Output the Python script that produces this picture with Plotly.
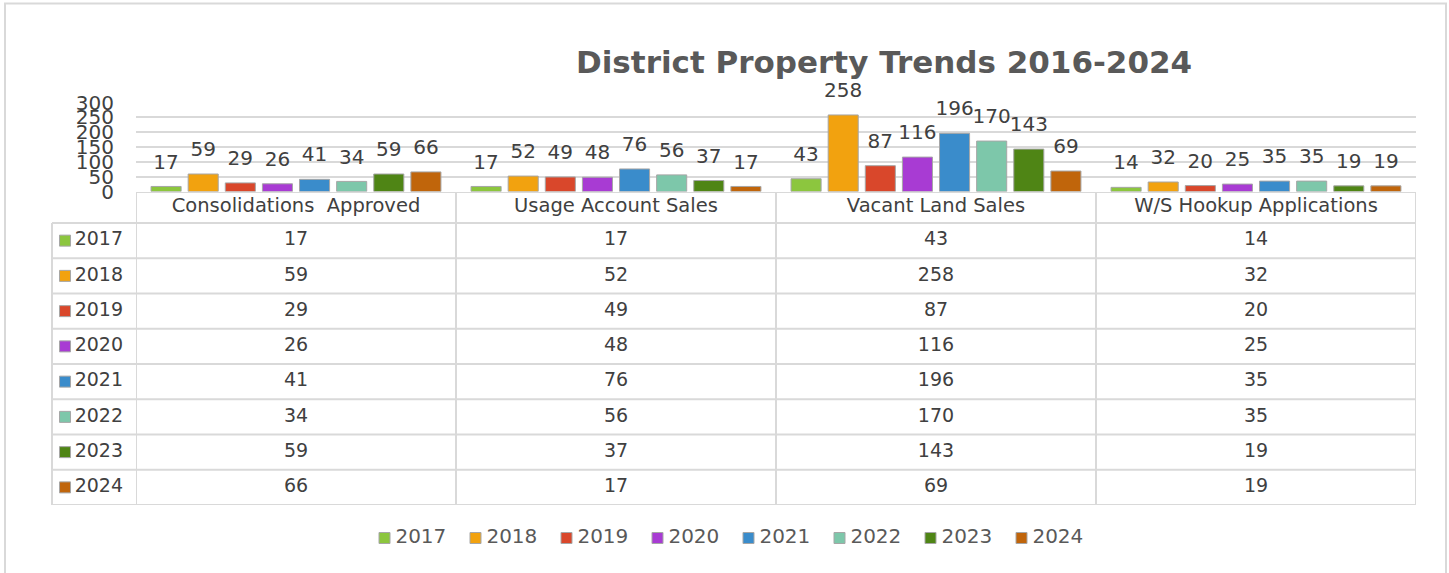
import plotly.graph_objects as go

categories = ["Consolidations  Approved", "Usage Account Sales", "Vacant Land Sales", "W/S Hookup Applications"]
years = ["2017", "2018", "2019", "2020", "2021", "2022", "2023", "2024"]
values = {
    "2017": [17, 17, 43, 14],
    "2018": [59, 52, 258, 32],
    "2019": [29, 49, 87, 20],
    "2020": [26, 48, 116, 25],
    "2021": [41, 76, 196, 35],
    "2022": [34, 56, 170, 35],
    "2023": [59, 37, 143, 19],
    "2024": [66, 17, 69, 19],
}
colors = ["#8CC63E", "#F2A20F", "#D9472B", "#A83BD3", "#3A8CCB", "#7DC7AA", "#4F8515", "#C0650B"]
y_ticks = [0, 50, 100, 150, 200, 250, 300]
title = "District Property Trends 2016-2024"

W, H = 1449, 573
FONT = "DejaVu Sans"
TXT = "#404040"
GRID = "#d9d9d9"

def px_x(p):
    return p / W

def px_y(p):
    return 1 - p / H

x_dom = [px_x(136), px_x(1416)]
lab_dom = [px_x(52), px_x(136)]
bar_dom = [px_y(191.5), px_y(102.5)]
tab_dom = [px_y(505), px_y(192)]
header_h = 31 / 35.25  # header height in row units
y2_top = -0.5 - header_h
y2_bot = len(years) - 0.5
leg_step = 91
leg_first = 384.5
leg_dom = [px_x(leg_first - leg_step / 2), px_x(leg_first + leg_step * (len(years) - 0.5))]
cat_range = [-0.5, len(categories) - 0.5]

fig = go.Figure()

for yr, col in zip(years, colors):
    fig.add_trace(go.Bar(
        name=yr, x=categories, y=values[yr],
        marker=dict(color=col, line=dict(color="#a6a6a6", width=1)),
        xaxis="x", yaxis="y", showlegend=False, hoverinfo="x+y+name",
    ))
# bar value labels (grouped like the bars, on an overlaying category axis)
for yr in years:
    fig.add_trace(go.Scatter(
        x=categories, y=values[yr], mode="markers+text",
        marker=dict(size=19, opacity=0), text=[str(v) for v in values[yr]],
        textposition="top center", textfont=dict(family=FONT, size=20, color=TXT),
        cliponaxis=False, xaxis="x5", yaxis="y", showlegend=False, hoverinfo="skip",
    ))

# table header texts
fig.add_trace(go.Scatter(
    x=categories, y=[-0.5 - header_h / 2] * len(categories), mode="text", offsetgroup="tbl",
    text=categories, textposition="middle center", textfont=dict(family=FONT, size=19.5, color=TXT),
    cliponaxis=False, xaxis="x4", yaxis="y2", showlegend=False, hoverinfo="skip",
))
# table values
for i, yr in enumerate(years):
    fig.add_trace(go.Scatter(
        x=categories, y=[i] * len(categories), mode="text", offsetgroup="tbl",
        text=[str(v) for v in values[yr]], textposition="middle center",
        textfont=dict(family=FONT, size=19, color=TXT),
        cliponaxis=False, xaxis="x4", yaxis="y2", showlegend=False, hoverinfo="skip",
    ))
# row label column: icons + years
fig.add_trace(go.Scatter(
    x=[0.155] * len(years), y=list(range(len(years))), mode="markers", offsetgroup="lab",
    marker=dict(symbol="square", size=11, color=colors, line=dict(color="#a6a6a6", width=1)),
    cliponaxis=False, xaxis="x2", yaxis="y2", showlegend=False, hoverinfo="skip",
))
fig.add_trace(go.Scatter(
    x=[0.27] * len(years), y=list(range(len(years))), mode="text", offsetgroup="lab",
    text=years, textposition="middle right", textfont=dict(family=FONT, size=19, color=TXT),
    cliponaxis=False, xaxis="x2", yaxis="y2", showlegend=False, hoverinfo="skip",
))
# bottom legend
fig.add_trace(go.Scatter(
    x=list(range(len(years))), y=[0] * len(years), mode="markers", offsetgroup="leg",
    marker=dict(symbol="square", size=11, color=colors, line=dict(color="#a6a6a6", width=1)),
    cliponaxis=False, xaxis="x3", yaxis="y3", showlegend=False, hoverinfo="skip",
))
fig.add_trace(go.Scatter(
    x=[i + 0.12 for i in range(len(years))], y=[0] * len(years), mode="text", offsetgroup="leg",
    text=years, textposition="middle right", textfont=dict(family=FONT, size=20, color="#595959"),
    cliponaxis=False, xaxis="x3", yaxis="y3", showlegend=False, hoverinfo="skip",
))

shapes = []
line = dict(color=GRID, width=2)
# outer border
shapes.append(dict(type="rect", xref="paper", yref="paper", x0=px_x(5), x1=px_x(1446),
                   y0=-0.02, y1=px_y(3.5), line=line, layer="below"))
# horizontal table lines
shapes.append(dict(type="line", xref="paper", yref="y2", x0=x_dom[0], x1=x_dom[1],
                   y0=y2_top, y1=y2_top, line=line))
for i in range(len(years) + 1):
    shapes.append(dict(type="line", xref="paper", yref="y2", x0=lab_dom[0], x1=x_dom[1],
                       y0=i - 0.5, y1=i - 0.5, line=line))
# vertical table lines
for k in range(len(categories) + 1):
    shapes.append(dict(type="line", xref="x", yref="y2", x0=k - 0.5, x1=k - 0.5,
                       y0=y2_top, y1=y2_bot, line=line))
shapes.append(dict(type="line", xref="paper", yref="y2", x0=lab_dom[0], x1=lab_dom[0],
                   y0=-0.5, y1=y2_bot, line=line))

fig.update_layout(
    width=W, height=H, margin=dict(l=0, r=0, t=0, b=0, autoexpand=False),
    paper_bgcolor="white", plot_bgcolor="rgba(0,0,0,0)",
    barmode="group", bargap=0.072, bargroupgap=0.19,
    scattermode="group", scattergap=0.072,
    font=dict(family=FONT, color=TXT),
    showlegend=False,
    xaxis=dict(domain=x_dom, anchor="y", range=cat_range, showticklabels=False,
               showgrid=False, zeroline=False, showline=False, ticks=""),
    xaxis5=dict(domain=x_dom, anchor="y", overlaying="x", range=cat_range, visible=False),
    xaxis4=dict(domain=x_dom, anchor="y2", range=cat_range, visible=False),
    yaxis=dict(domain=bar_dom, anchor="x", range=[0, 300], tickvals=y_ticks,
               showgrid=True, gridcolor=GRID, gridwidth=2, zeroline=False,
               tickfont=dict(family=FONT, size=20, color=TXT), ticks="", ticklabelstandoff=21),
    xaxis2=dict(domain=lab_dom, anchor="y2", range=[0, 1], visible=False),
    yaxis2=dict(domain=tab_dom, anchor="x4", range=[y2_bot, y2_top], visible=False),
    xaxis3=dict(domain=leg_dom, anchor="y3", range=[-0.5, len(years) - 0.5], visible=False),
    yaxis3=dict(domain=[px_y(555), px_y(521)], anchor="x3", range=[-1, 1], visible=False),
    shapes=shapes,
    annotations=[dict(text="<b>" + title + "</b>", xref="paper", yref="paper",
                      x=px_x(884), y=px_y(62), xanchor="center", yanchor="middle",
                      showarrow=False, font=dict(family=FONT, size=31, color="#595959"))],
)

fig.write_html("out.html", config={"displayModeBar": False},
               post_script="document.body.style.margin='0';")
